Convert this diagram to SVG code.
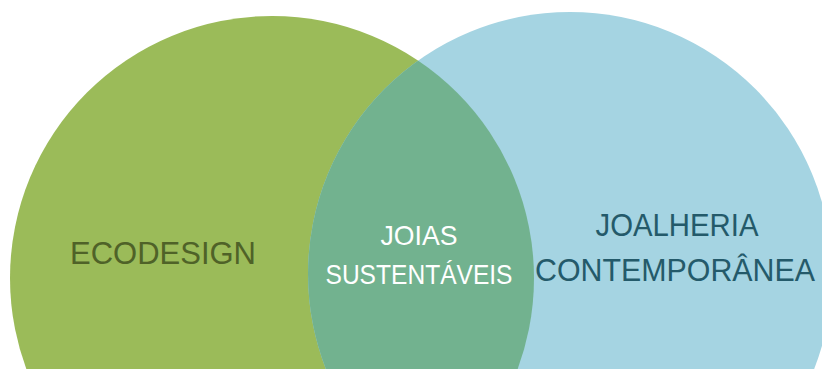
<svg xmlns="http://www.w3.org/2000/svg" width="822" height="369" viewBox="0 0 822 369">
<style>
.lbl{font-family:"Liberation Sans",Arial,sans-serif;text-anchor:middle}
</style>
<rect width="822" height="369" fill="#ffffff"/>
<defs>
<clipPath id="clipGreen"><circle cx="272" cy="278" r="262"/></clipPath>
</defs>
<g id="node-ecodesign">
<circle cx="272" cy="278" r="262" fill="#9BBB59"/>
</g>
<g id="node-joalheria">
<circle cx="570" cy="274" r="262" fill="#A5D4E2"/>
</g>
<g id="node-joias">
<circle cx="570" cy="274" r="262" fill="#72B28F" clip-path="url(#clipGreen)"/>
</g>
<g id="connectors"></g>
<g id="labels">
<text class="lbl" x="163" y="264" font-size="32" fill="#4F6228" textLength="186" lengthAdjust="spacingAndGlyphs">ECODESIGN</text>
<text class="lbl" x="419" y="245" font-size="28" fill="#ffffff" textLength="77" lengthAdjust="spacingAndGlyphs">JOIAS</text>
<text class="lbl" x="419" y="284" font-size="28" fill="#ffffff" textLength="187" lengthAdjust="spacingAndGlyphs">SUSTENTÁVEIS</text>
<text class="lbl" x="677" y="236" font-size="32" fill="#245A6A" textLength="163" lengthAdjust="spacingAndGlyphs">JOALHERIA</text>
<text class="lbl" x="675" y="281" font-size="31" fill="#245A6A" textLength="280" lengthAdjust="spacingAndGlyphs">CONTEMPORÂNEA</text>
</g>
</svg>
